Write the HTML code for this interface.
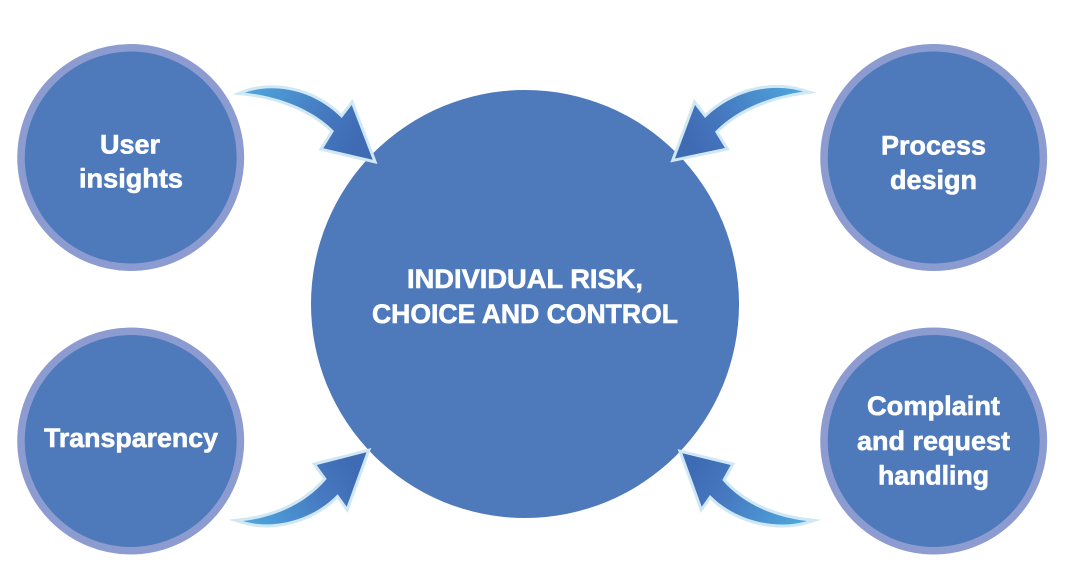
<!DOCTYPE html>
<html>
<head>
<meta charset="utf-8">
<style>
html,body{margin:0;padding:0;background:#fff;width:1068px;height:580px;overflow:hidden}
svg{display:block}
text{font-family:"Liberation Sans",sans-serif;font-weight:bold;font-size:27px;fill:#fff;stroke:#fff;stroke-width:.6px}
.a{stroke:#cfe8f4;stroke-width:6px;stroke-linejoin:miter;stroke-miterlimit:6;paint-order:stroke}
</style>
</head>
<body>
<svg width="1068" height="580" viewBox="0 0 1068 580" xmlns="http://www.w3.org/2000/svg">
<defs>
<linearGradient id="g1" gradientUnits="userSpaceOnUse" x1="250" y1="88" x2="355" y2="145"><stop offset="0" stop-color="#4ea5dc"/><stop offset=".65" stop-color="#4679c0"/><stop offset="1" stop-color="#3f6bb4"/></linearGradient>
<linearGradient id="g2" gradientUnits="userSpaceOnUse" x1="798" y1="88" x2="692" y2="145"><stop offset="0" stop-color="#4ea5dc"/><stop offset=".65" stop-color="#4679c0"/><stop offset="1" stop-color="#3f6bb4"/></linearGradient>
<linearGradient id="g3" gradientUnits="userSpaceOnUse" x1="250" y1="524" x2="352" y2="465"><stop offset="0" stop-color="#4ea5dc"/><stop offset=".65" stop-color="#4679c0"/><stop offset="1" stop-color="#3f6bb4"/></linearGradient>
<linearGradient id="g4" gradientUnits="userSpaceOnUse" x1="798" y1="524" x2="695" y2="465"><stop offset="0" stop-color="#4ea5dc"/><stop offset=".65" stop-color="#4679c0"/><stop offset="1" stop-color="#3f6bb4"/></linearGradient>
</defs>

<circle cx="525" cy="304" r="214" fill="#4e79bb"/>

<g fill="#4e79bb" stroke="#8d9cd0" stroke-width="7.5">
<circle cx="130.7" cy="157.5" r="109.7"/>
<circle cx="933.7" cy="157.5" r="109.7"/>
<circle cx="130.7" cy="441" r="109.7"/>
<circle cx="933.7" cy="441" r="109.7"/>
</g>

<path class="a" fill="url(#g1)" d="M245 92.7 C268 84 310 86 341.7 118 L351.7 105 L372.7 159.8 L323.3 148.3 L334 131 C310 107 275 96 245 92.7 Z"/>
<path class="a" fill="url(#g2)" d="M803 91.7 C778 84 738 86 705 118 L695 105 L675 158.5 L725 148 L715 131.7 C738 108 772 96 803 91.7 Z"/>
<path class="a" fill="url(#g3)" d="M243 521 C268 518 302 508 326.7 479 L316.7 465 L366.5 452.3 L346.7 506.7 L337.7 494.3 C312 521 272 530 243 521 Z"/>
<path class="a" fill="url(#g4)" d="M807 521 C782 518 746 508 722.3 480 L730.7 465 L682.3 453.3 L701.7 506.7 L710 495 C736 522 778 530 807 521 Z"/>

<text x="100" y="153.5" textLength="60" lengthAdjust="spacingAndGlyphs">User</text>
<text x="79" y="187.5" textLength="104" lengthAdjust="spacingAndGlyphs">insights</text>
<text x="881" y="154.5" textLength="105" lengthAdjust="spacingAndGlyphs">Process</text>
<text x="890" y="189" textLength="87" lengthAdjust="spacingAndGlyphs">design</text>
<text x="44" y="447" textLength="174" lengthAdjust="spacingAndGlyphs">Transparency</text>
<text x="867" y="415" textLength="133" lengthAdjust="spacingAndGlyphs">Complaint</text>
<text x="857" y="450" textLength="153" lengthAdjust="spacingAndGlyphs">and request</text>
<text x="878" y="484.5" textLength="111" lengthAdjust="spacingAndGlyphs">handling</text>
<text x="407" y="288" textLength="236" lengthAdjust="spacingAndGlyphs">INDIVIDUAL RISK,</text>
<text x="372" y="323" textLength="306" lengthAdjust="spacingAndGlyphs">CHOICE AND CONTROL</text>
</svg>
</body>
</html>
